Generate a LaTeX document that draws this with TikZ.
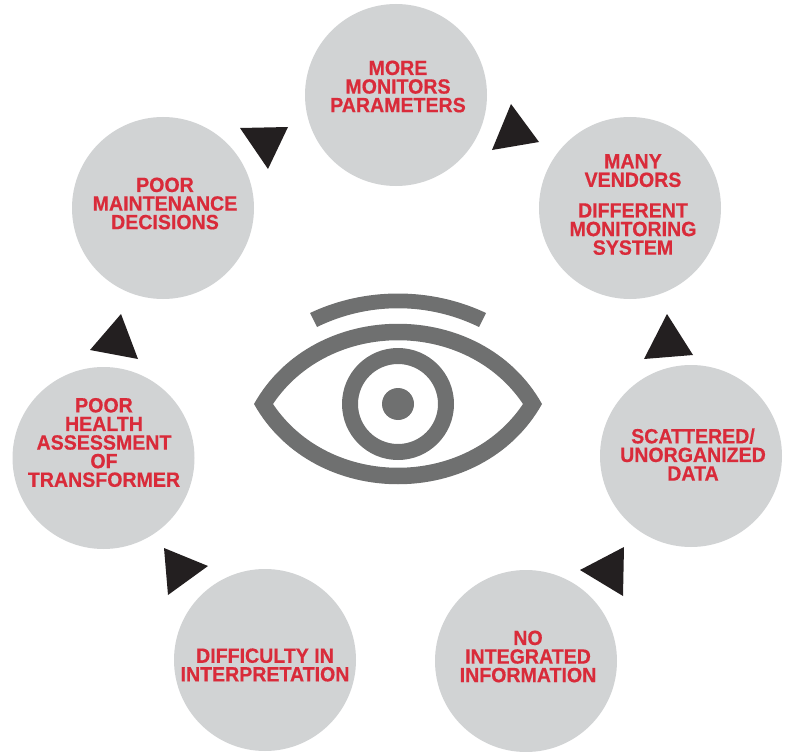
\documentclass[tikz,border=0pt]{standalone}
\usepackage{fontspec}
\setmainfont{Liberation Sans}
\newfontfamily\stagefont[FakeStretch=0.95,FakeBold=0.5]{Liberation Sans Bold}
\definecolor{stagegray}{HTML}{D1D3D4}
\definecolor{stagered}{HTML}{D92B3A}
\definecolor{eyegray}{HTML}{6F7070}
\definecolor{tipblack}{HTML}{231F20}
\tikzset{
  stage/.style={circle,fill=stagegray,minimum size=182pt,inner sep=0pt},
  stagetext/.style={align=center,inner sep=0pt,text=stagered,
    font=\fontsize{20.6}{18.6}\stagefont},
  tip/.style={fill=tipblack},
  eyepart/.style={fill=eyegray}
}

\begin{document}
\begin{tikzpicture}[x=1pt,y=-1pt]

  \useasboundingbox (0,0) rectangle (788,752);

  \node[stage] (More) at (396,95) {};
  \node[stage] (Many) at (630,208) {};
  \node[stage] (Scat) at (691,456) {};
  \node[stage] (Integ) at (526,661) {};
  \node[stage] (Diff) at (265,660) {};
  \node[stage] (Health) at (103.5,458) {};
  \node[stage] (Maint) at (163,208) {};

  \node[stagetext] (Moret) at (398,86.5) {MORE\\MONITORS\\PARAMETERS};
  \node[stagetext] (Manyt) at (633,204.5) {MANY\\VENDORS\\[12pt]DIFFERENT\\MONITORING\\SYSTEM};
  \node[stagetext] (Scatt) at (693,454.5) {SCATTERED/\\UNORGANIZED\\DATA};
  \node[stagetext] (Integt) at (528,656.5) {NO\\INTEGRATED\\INFORMATION};
  \node[stagetext] (Difft) at (265,665) {DIFFICULTY IN\\INTERPRETATION};
  \node[stagetext] (Healtht) at (104,442.5) {POOR\\HEALTH\\ASSESSMENT\\OF\\TRANSFORMER};
  \node[stagetext] (Maintt) at (165,203.5) {POOR\\MAINTENANCE\\DECISIONS};

  \fill[tip] (511,104) -- (539,142) -- (492,150) -- cycle;
  \fill[tip] (667,314) -- (693,355) -- (644,359) -- cycle;
  \fill[tip] (624,547) -- (580,570) -- (623,596) -- cycle;
  \fill[tip] (164,548) -- (208,566) -- (168,595) -- cycle;
  \fill[tip] (121,314) -- (138,359) -- (90,350) -- cycle;
  \fill[tip] (240,128) -- (288,127) -- (268,169) -- cycle;

  \coordinate (Oe) at (398,404);

  \fill[eyepart,even odd rule]
    (254,404) .. controls (314,297) and (482,297) .. (542,404)
    .. controls (482,511) and (314,511) .. (254,404) -- cycle
    (273,404) .. controls (330,319) and (466,319) .. (523,404)
    .. controls (466,489) and (330,489) .. (273,404) -- cycle;
  \fill[eyepart,even odd rule] (Oe) circle (56) (Oe) circle (40);
  \fill[eyepart] (Oe) circle (16);

  \fill[eyepart] (310,313) .. controls (365,287) and (431,287) .. (486,313)
    -- (479,327) .. controls (428,302) and (368,302) .. (317,327) -- cycle;

\end{tikzpicture}
\end{document}
